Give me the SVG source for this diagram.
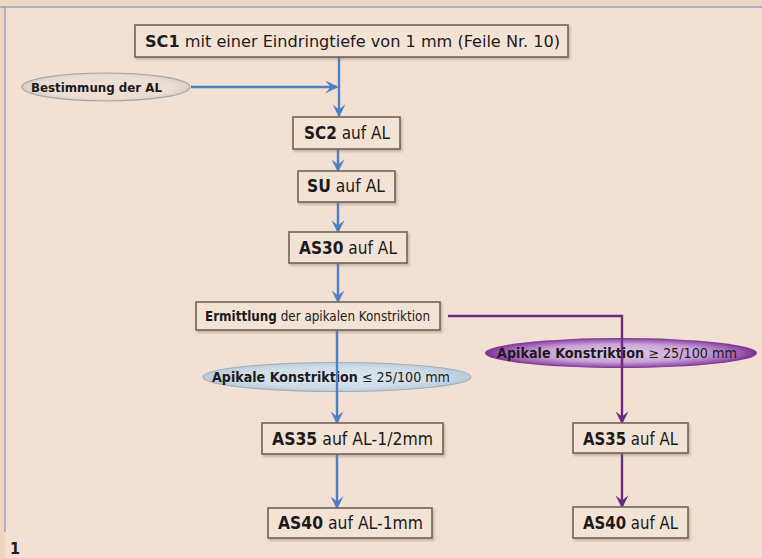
<svg xmlns="http://www.w3.org/2000/svg" width="762" height="558" viewBox="0 0 762 558">
<defs>
<style>
.bg{fill:#f2e0d2}
.box{fill:#f3e3d5;stroke:#6e6259;stroke-width:1.6}
.t{font-family:"DejaVu Sans Condensed","DejaVu Sans",sans-serif;font-stretch:condensed;fill:#1c1a1a}
.b{font-weight:bold}
.blue{stroke:#4d7fc4;stroke-width:2.4;fill:none}
.purple{stroke:#6b2a80;stroke-width:2.4;fill:none}
</style>
<filter id="sh" x="-10%" y="-20%" width="120%" height="150%">
<feDropShadow dx="1.5" dy="2" stdDeviation="1.2" flood-color="#8a7a6e" flood-opacity="0.45"/>
</filter>
<marker id="ab" markerWidth="13" markerHeight="13" refX="9" refY="5" orient="auto" markerUnits="userSpaceOnUse" viewBox="0 0 10 10">
<path d="M0,0 L10,5 L0,10 L4,5 z" fill="#4d7fc4"/>
</marker>
<marker id="ap" markerWidth="13" markerHeight="13" refX="9" refY="5" orient="auto" markerUnits="userSpaceOnUse" viewBox="0 0 10 10">
<path d="M0,0 L10,5 L0,10 L4,5 z" fill="#6b2a80"/>
</marker>
<radialGradient id="gblue" cx="0.5" cy="0.5" r="0.5">
<stop offset="0" stop-color="#dbe6ef"/>
<stop offset="0.7" stop-color="#cfdde9"/>
<stop offset="1" stop-color="#b8cbdc"/>
</radialGradient>
<radialGradient id="ggray" cx="0.5" cy="0.5" r="0.5">
<stop offset="0" stop-color="#f1e2d6"/>
<stop offset="0.8" stop-color="#eaddd3"/>
<stop offset="1" stop-color="#d8d0cb"/>
</radialGradient>
<radialGradient id="gpurp" cx="0.5" cy="0.5" r="0.5">
<stop offset="0" stop-color="#e0cae6"/>
<stop offset="0.6" stop-color="#c9a2d6"/>
<stop offset="0.88" stop-color="#9a5bb0"/>
<stop offset="1" stop-color="#7a2f93"/>
</radialGradient>
</defs>

<rect x="0" y="0" width="762" height="558" fill="#efd6c3"/>
<rect class="bg" x="5" y="7" width="757" height="551"/>
<line x1="0" y1="7" x2="762" y2="7" stroke="#6f83c9" stroke-width="1"/>
<line x1="5" y1="7" x2="5" y2="532" stroke="#6f83c9" stroke-width="1"/>

<g id="ell-bestimmung">
<ellipse cx="106" cy="87" rx="84" ry="14" fill="url(#ggray)" stroke="#a8a4a2" stroke-width="1.2"/>
<text class="t b" x="31" y="92" font-size="13" textLength="131" lengthAdjust="spacingAndGlyphs">Bestimmung der AL</text>
</g>
<g id="ell-kleiner">
<ellipse cx="337" cy="377" rx="134" ry="14.5" fill="url(#gblue)" stroke="#a5acb3" stroke-width="1.2"/>
<text class="t" x="212" y="382" font-size="13.5" textLength="238" lengthAdjust="spacingAndGlyphs"><tspan class="b">Apikale Konstriktion</tspan> ≤ 25/100 mm</text>
</g>
<g id="ell-groesser">
<ellipse cx="621" cy="353" rx="136" ry="15" fill="url(#gpurp)"/>
<text class="t" x="497" y="358" font-size="13.5" textLength="240" lengthAdjust="spacingAndGlyphs"><tspan class="b">Apikale Konstriktion</tspan> ≥ 25/100 mm</text>
</g>

<g id="connectors">
<line class="blue" x1="339" y1="57" x2="339" y2="116" marker-end="url(#ab)"/>
<line class="blue" x1="191" y1="87" x2="337" y2="87" marker-end="url(#ab)"/>
<line class="blue" x1="338" y1="149" x2="338" y2="171" marker-end="url(#ab)"/>
<line class="blue" x1="338" y1="202" x2="338" y2="232" marker-end="url(#ab)"/>
<line class="blue" x1="338" y1="263" x2="338" y2="302" marker-end="url(#ab)"/>
<line class="blue" x1="337" y1="330" x2="337" y2="423" marker-end="url(#ab)"/>
<line class="blue" x1="337" y1="454" x2="337" y2="508" marker-end="url(#ab)"/>
<polyline class="purple" points="448,316 622,316 622,423" marker-end="url(#ap)"/>
<line class="purple" x1="622" y1="453" x2="622" y2="507" marker-end="url(#ap)"/>
</g>

<g id="n-sc1">
<rect class="box" x="135" y="25" width="433" height="32" filter="url(#sh)"/>
<text class="t" x="145" y="47" font-size="16" textLength="415" lengthAdjust="spacingAndGlyphs"><tspan class="b">SC1</tspan> mit einer Eindringtiefe von 1 mm (Feile Nr. 10)</text>
</g>
<g id="n-sc2">
<rect class="box" x="293" y="117" width="107" height="32" filter="url(#sh)"/>
<text class="t" x="304" y="139" font-size="17" textLength="86" lengthAdjust="spacingAndGlyphs"><tspan class="b">SC2</tspan> auf AL</text>
</g>
<g id="n-su">
<rect class="box" x="298" y="171" width="97" height="31" filter="url(#sh)"/>
<text class="t" x="307" y="192" font-size="17" textLength="78" lengthAdjust="spacingAndGlyphs"><tspan class="b">SU</tspan> auf AL</text>
</g>
<g id="n-as30">
<rect class="box" x="289" y="232" width="118" height="31" filter="url(#sh)"/>
<text class="t" x="299" y="254" font-size="17" textLength="98" lengthAdjust="spacingAndGlyphs"><tspan class="b">AS30</tspan> auf AL</text>
</g>
<g id="n-ermittlung">
<rect class="box" x="196" y="302" width="244" height="28" filter="url(#sh)"/>
<text class="t" x="205" y="321" font-size="14" textLength="225" lengthAdjust="spacingAndGlyphs"><tspan class="b">Ermittlung</tspan> der apikalen Konstriktion</text>
</g>
<g id="n-as35-left">
<rect class="box" x="262" y="423" width="181" height="31" filter="url(#sh)"/>
<text class="t" x="272" y="445" font-size="17" textLength="161" lengthAdjust="spacingAndGlyphs"><tspan class="b">AS35</tspan> auf AL-1/2mm</text>
</g>
<g id="n-as40-left">
<rect class="box" x="268" y="508" width="164" height="30" filter="url(#sh)"/>
<text class="t" x="278" y="529" font-size="17" textLength="145" lengthAdjust="spacingAndGlyphs"><tspan class="b">AS40</tspan> auf AL-1mm</text>
</g>
<g id="n-as35-right">
<rect class="box" x="573" y="423" width="115" height="30" filter="url(#sh)"/>
<text class="t" x="583" y="445" font-size="17" textLength="95" lengthAdjust="spacingAndGlyphs"><tspan class="b">AS35</tspan> auf AL</text>
</g>
<g id="n-as40-right">
<rect class="box" x="573" y="507" width="115" height="31" filter="url(#sh)"/>
<text class="t" x="583" y="529" font-size="17" textLength="95" lengthAdjust="spacingAndGlyphs"><tspan class="b">AS40</tspan> auf AL</text>
</g>

<text class="t b" x="10" y="554" font-size="16">1</text>
</svg>
